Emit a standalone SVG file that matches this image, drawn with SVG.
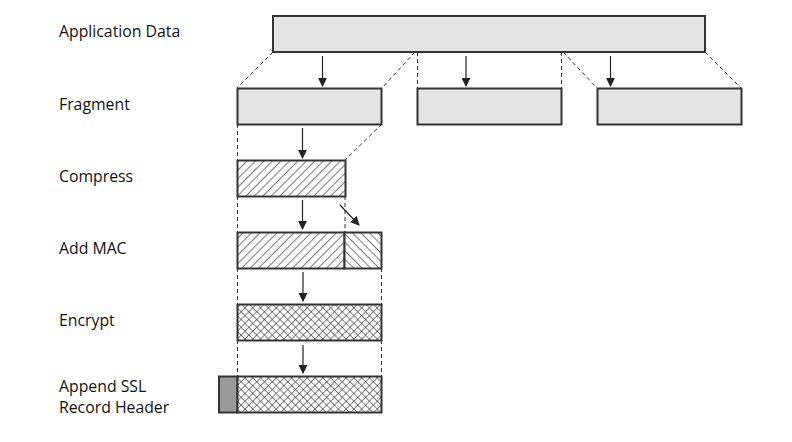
<svg xmlns="http://www.w3.org/2000/svg" width="792" height="442" viewBox="0 0 792 442">
<style>
.lbl{font-family:"Open Sans","Liberation Sans",sans-serif;font-size:15.8px;fill:#111}
.box{stroke:#333;stroke-width:2}
.plain{fill:#e4e4e4}
.dash{stroke:#333;stroke-width:1;stroke-dasharray:4,3;fill:none}
.arr{stroke:#222;stroke-width:1.2;fill:none;marker-end:url(#ah)}
</style>
<defs>
<marker id="ah" viewBox="0 0 10 10" refX="9" refY="5" markerWidth="9" markerHeight="9" markerUnits="userSpaceOnUse" orient="auto">
<path d="M0,0 L10,5 L0,10 z" fill="#222"/>
</marker>
<pattern id="hatchF" patternUnits="userSpaceOnUse" width="6" height="6" patternTransform="rotate(45)">
<rect width="6" height="6" fill="#fff"/>
<line x1="0" y1="0" x2="0" y2="6" stroke="#222" stroke-width="1.2"/>
</pattern>
<pattern id="hatchB" patternUnits="userSpaceOnUse" width="6" height="6" patternTransform="rotate(-45)">
<rect width="6" height="6" fill="#fff"/>
<line x1="0" y1="0" x2="0" y2="6" stroke="#222" stroke-width="1.2"/>
</pattern>
<pattern id="cross" patternUnits="userSpaceOnUse" width="5.5" height="5.5" patternTransform="rotate(45)">
<rect width="5.5" height="5.5" fill="#fff"/>
<line x1="0" y1="0" x2="0" y2="5.5" stroke="#222" stroke-width="1.1"/>
<line x1="0" y1="0" x2="5.5" y2="0" stroke="#222" stroke-width="1.1"/>
</pattern>
</defs>

<g id="labels">
<text class="lbl" x="59" y="37">Application Data</text>
<text class="lbl" x="59" y="110">Fragment</text>
<text class="lbl" x="59" y="182">Compress</text>
<text class="lbl" x="59" y="254">Add MAC</text>
<text class="lbl" x="59" y="326">Encrypt</text>
<text class="lbl" x="59" y="392">Append SSL</text>
<text class="lbl" x="59" y="413">Record Header</text>
</g>

<g id="connectors">
<line class="dash" x1="273" y1="52" x2="237" y2="88"/>
<line class="dash" x1="415" y1="52" x2="382" y2="88"/>
<line class="dash" x1="417.5" y1="52" x2="417.5" y2="88"/>
<line class="dash" x1="561.5" y1="52" x2="561.5" y2="88"/>
<line class="dash" x1="563" y1="52" x2="597" y2="88"/>
<line class="dash" x1="705" y1="52" x2="741" y2="88"/>
<line class="dash" x1="237.5" y1="124" x2="237.5" y2="160"/>
<line class="dash" x1="382" y1="124" x2="345" y2="160"/>
<line class="dash" x1="237.5" y1="196" x2="237.5" y2="232"/>
<line class="dash" x1="345" y1="196" x2="345" y2="232"/>
<line class="dash" x1="237.5" y1="268" x2="237.5" y2="304"/>
<line class="dash" x1="381.5" y1="268" x2="381.5" y2="304"/>
<line class="dash" x1="237.5" y1="340" x2="237.5" y2="376"/>
<line class="dash" x1="381.5" y1="340" x2="381.5" y2="376"/>
<line class="arr" x1="322.5" y1="56" x2="322.5" y2="86"/>
<line class="arr" x1="466" y1="56" x2="466" y2="86"/>
<line class="arr" x1="610.5" y1="56" x2="610.5" y2="86"/>
<line class="arr" x1="302.5" y1="128" x2="302.5" y2="158"/>
<line class="arr" x1="302.5" y1="200" x2="302.5" y2="229"/>
<line class="arr" x1="340" y1="205" x2="359" y2="225"/>
<line class="arr" x1="303" y1="272" x2="303" y2="301"/>
<line class="arr" x1="303" y1="345" x2="303" y2="373"/>
</g>

<g id="app-data"><rect class="box plain" x="273" y="16" width="432" height="36"/></g>
<g id="fragment-1"><rect class="box plain" x="237.5" y="88.5" width="144" height="36"/></g>
<g id="fragment-2"><rect class="box plain" x="417.5" y="88.5" width="144" height="36"/></g>
<g id="fragment-3"><rect class="box plain" x="597.5" y="88.5" width="144" height="36"/></g>
<g id="compress"><rect class="box" fill="url(#hatchF)" x="237.5" y="160.5" width="108" height="36"/></g>
<g id="add-mac">
<rect class="box" fill="url(#hatchF)" x="237.5" y="232.5" width="107" height="36"/>
<rect class="box" fill="url(#hatchB)" x="344.5" y="232.5" width="37" height="36"/>
</g>
<g id="encrypt"><rect class="box" fill="url(#cross)" x="237.5" y="304.5" width="144" height="36"/></g>
<g id="append">
<rect class="box" fill="#9a9a9a" x="219" y="376.5" width="18.5" height="36"/>
<rect class="box" fill="url(#cross)" x="237.5" y="376.5" width="144" height="36"/>
</g>
</svg>
